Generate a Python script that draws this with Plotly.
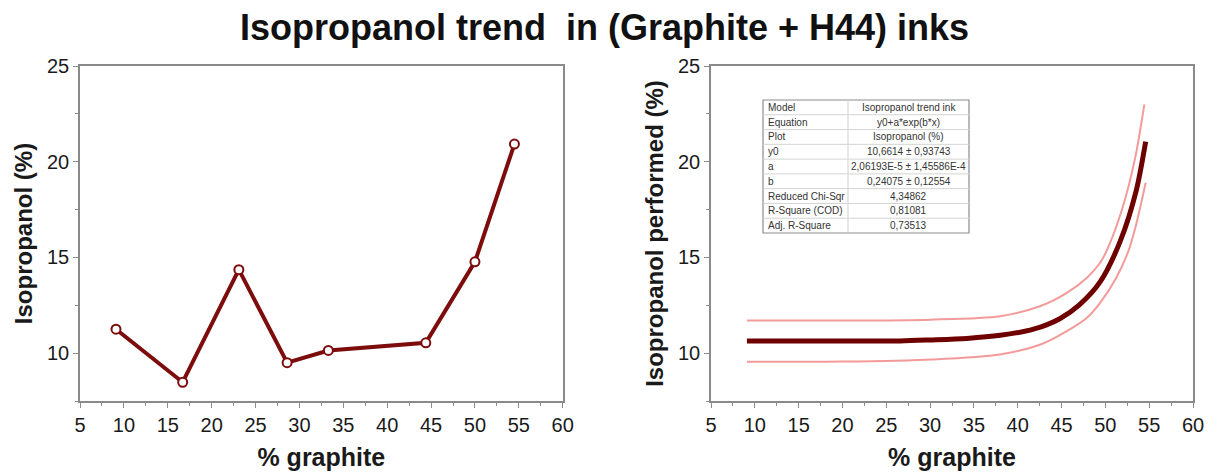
import plotly.graph_objects as go
from plotly.subplots import make_subplots

# Measured isopropanol content against graphite loading
graphite_pct = [9.1, 16.7, 23.1, 28.6, 33.3, 44.4, 50.0, 54.5]
isopropanol_pct = [11.25, 8.48, 14.36, 9.5, 10.14, 10.54, 14.77, 20.92]

# Fitted exponential trend and its confidence band
fit_x = [9.1, 15, 20, 26.6, 30, 34.2, 38, 41.8, 44.8, 47.1, 49.4, 51.7, 53.5, 54.6]
fit_y = [10.63, 10.63, 10.63, 10.64, 10.69, 10.77, 10.93, 11.25, 11.8, 12.55, 13.72, 15.85, 18.45, 21.05]

band_hi_x = [9.1, 20, 30, 38, 42.6, 45.6, 47.9, 49.4, 50.2, 51.9, 53.4, 54.45]
band_hi_y = [11.7, 11.7, 11.75, 11.93, 12.46, 13.15, 13.94, 14.72, 15.4, 17.5, 20.2, 23.0]

band_lo_x = [9.1, 20, 30.3, 38, 42.6, 45.6, 47.9, 49.4, 51.2, 52.6, 53.5, 54.6]
band_lo_y = [9.55, 9.56, 9.67, 9.93, 10.45, 11.15, 11.85, 12.63, 13.9, 15.3, 16.7, 18.9]

# Fit report table
table_keys = ["Model", "Equation", "Plot", "y0", "a", "b",
              "Reduced Chi-Sqr", "R-Square (COD)", "Adj. R-Square"]
table_vals = ["Isopropanol trend ink", "y0+a*exp(b*x)", "Isopropanol (%)",
              "10,6614 \u00b1 0,93743", "2,06193E-5 \u00b1 1,45586E-4",
              "0,24075 \u00b1 0,12554", "4,34862", "0,81081", "0,73513"]

TITLE = "Isopropanol trend  in (Graphite + H44) inks"
X_TITLE = "% graphite"
Y_TITLE_L = "Isopropanol (%)"
Y_TITLE_R = "Isopropanol performed (%)"

W, H = 1212, 472
ML, MR, MT, MB = 80, 19, 66, 71
PW, PH = W - ML - MR, H - MT - MB


def px2x(px):
    return (px - ML) / PW


def py2y(py):
    return (H - MB - py) / PH


FONT = "Liberation Sans, Arial, sans-serif"
DARK_RED = "#7d0c0c"

fig = make_subplots(rows=1, cols=2)

fig.add_trace(go.Scatter(
    x=graphite_pct, y=isopropanol_pct, mode="lines+markers",
    line=dict(color=DARK_RED, width=4),
    marker=dict(symbol="circle", size=9, color="white",
                line=dict(color=DARK_RED, width=2)),
    showlegend=False), row=1, col=1)

for bx, by in ((band_hi_x, band_hi_y), (band_lo_x, band_lo_y)):
    fig.add_trace(go.Scatter(
        x=bx, y=by, mode="lines",
        line=dict(color="#f39a9a", width=2, shape="spline", smoothing=0.8),
        showlegend=False), row=1, col=2)

fig.add_trace(go.Scatter(
    x=fit_x, y=fit_y, mode="lines",
    line=dict(color="#6e0000", width=5, shape="spline", smoothing=0.8),
    showlegend=False), row=1, col=2)

axis_common = dict(
    showline=True, mirror=True, linecolor="#8a8a8a", linewidth=1.5,
    ticks="outside", ticklen=5, tickwidth=1, tickcolor="#8a8a8a",
    showgrid=False, zeroline=False,
    tickfont=dict(family=FONT, size=20, color="#1a1a1a"),
    minor=dict(ticks="outside", ticklen=3, tickcolor="#8a8a8a", showgrid=False),
)

for i, (dom, ytitle) in enumerate(((
        [0, px2x(562.7)], Y_TITLE_L), ([px2x(711), 1], Y_TITLE_R)), start=1):
    xa = "xaxis" if i == 1 else "xaxis2"
    ya = "yaxis" if i == 1 else "yaxis2"
    fig.update_layout(**{
        xa: dict(axis_common, domain=dom, range=[5, 60], dtick=5, tick0=0,
                 minor=dict(axis_common["minor"], dtick=2.5),
                 title=dict(text="<b>" + X_TITLE + "</b>", standoff=14,
                            font=dict(family=FONT, size=25, color="#1a1a1a"))),
        ya: dict(axis_common, range=[7.5, 25], dtick=5, tick0=0,
                 minor=dict(axis_common["minor"], dtick=2.5),
                 title=dict(text="<b>" + ytitle + "</b>", standoff=8,
                            font=dict(family=FONT, size=24, color="#1a1a1a"))),
    })

annotations = [dict(
    text="<b>" + TITLE + "</b>", xref="paper", yref="paper",
    x=px2x(604), y=py2y(28), xanchor="center", yanchor="middle",
    showarrow=False, font=dict(family=FONT, size=36, color="#111111"))]

# Fit report table drawn inside the right panel
tx0, tx1, tcol = 763, 969, 848
ty0, ty1 = 100, 233
row_h = (ty1 - ty0) / len(table_keys)
shapes = [dict(type="rect", xref="paper", yref="paper",
               x0=px2x(tx0), x1=px2x(tx1), y0=py2y(ty1), y1=py2y(ty0),
               line=dict(color="#8c8c8c", width=1.2), fillcolor="white",
               layer="above")]
shapes.append(dict(type="line", xref="paper", yref="paper",
                   x0=px2x(tcol), x1=px2x(tcol), y0=py2y(ty1), y1=py2y(ty0),
                   line=dict(color="#cfcfcf", width=1), layer="above"))
for r in range(1, len(table_keys)):
    yy = py2y(ty0 + r * row_h)
    shapes.append(dict(type="line", xref="paper", yref="paper",
                       x0=px2x(tx0), x1=px2x(tx1), y0=yy, y1=yy,
                       line=dict(color="#d4d4d4", width=1), layer="above"))
for r, (k, v) in enumerate(zip(table_keys, table_vals)):
    yc = py2y(ty0 + (r + 0.5) * row_h)
    annotations.append(dict(text=k, xref="paper", yref="paper",
                            x=px2x(tx0 + 3), y=yc, xanchor="left",
                            yanchor="middle", showarrow=False,
                            font=dict(family=FONT, size=10, color="#333333")))
    annotations.append(dict(text=v, xref="paper", yref="paper",
                            x=px2x((tcol + tx1) / 2), y=yc, xanchor="center",
                            yanchor="middle", showarrow=False,
                            font=dict(family=FONT, size=10, color="#333333")))

fig.update_layout(
    width=W, height=H,
    margin=dict(l=ML, r=MR, t=MT, b=MB, autoexpand=False),
    paper_bgcolor="white", plot_bgcolor="white",
    annotations=annotations, shapes=shapes,
    showlegend=False,
)

fig.write_html("out.html")
